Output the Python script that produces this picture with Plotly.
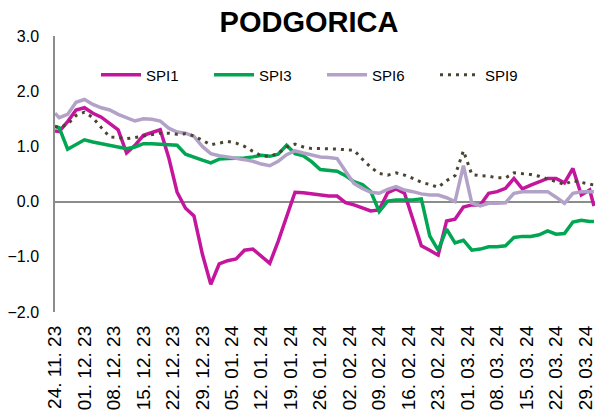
import plotly.graph_objects as go

dates = [
    "2023-11-24", "2023-11-25", "2023-11-27", "2023-11-29", "2023-12-01", "2023-12-03",
    "2023-12-05", "2023-12-07", "2023-12-09", "2023-12-11", "2023-12-13", "2023-12-15",
    "2023-12-17", "2023-12-19", "2023-12-21", "2023-12-23", "2023-12-25", "2023-12-27",
    "2023-12-29", "2023-12-31", "2024-01-02", "2024-01-04", "2024-01-06", "2024-01-08",
    "2024-01-10", "2024-01-12", "2024-01-14", "2024-01-16", "2024-01-18", "2024-01-20",
    "2024-01-22", "2024-01-24", "2024-01-26", "2024-01-28", "2024-01-30", "2024-02-01",
    "2024-02-03", "2024-02-05", "2024-02-07", "2024-02-09", "2024-02-11", "2024-02-13",
    "2024-02-15", "2024-02-17", "2024-02-19", "2024-02-21", "2024-02-23", "2024-02-25",
    "2024-02-27", "2024-02-29", "2024-03-02", "2024-03-04", "2024-03-06", "2024-03-08",
    "2024-03-10", "2024-03-12", "2024-03-14", "2024-03-16", "2024-03-18", "2024-03-20",
    "2024-03-22", "2024-03-24", "2024-03-26", "2024-03-28", "2024-03-30", "2024-03-31",
]

spi1 = [
    1.28, 1.27, 1.45, 1.66, 1.70, 1.60, 1.53, 1.42, 1.30, 0.88, 1.02, 1.20,
    1.25, 1.30, 0.80, 0.17, -0.12, -0.26, -0.95, -1.50, -1.13, -1.07, -1.04, -0.88,
    -0.86, -0.98, -1.12, -0.72, -0.28, 0.17, 0.16, 0.14, 0.12, 0.10, 0.10, -0.02,
    -0.06, -0.12, -0.17, -0.15, 0.16, 0.23, 0.15, -0.32, -0.80, -0.88, -0.97, -0.35,
    -0.32, -0.10, -0.06, -0.06, 0.15, 0.18, 0.24, 0.42, 0.23, 0.30, 0.36, 0.42,
    0.42, 0.34, 0.60, 0.12, 0.21, -0.08,
]

spi3 = [
    1.36, 1.34, 0.95, 1.04, 1.12, 1.08, 1.05, 1.02, 0.99, 0.96, 0.99, 1.05,
    1.05, 1.04, 1.03, 1.02, 0.86, 0.80, 0.75, 0.70, 0.77, 0.78, 0.78, 0.79,
    0.81, 0.84, 0.82, 0.86, 1.02, 0.87, 0.83, 0.72, 0.58, 0.56, 0.55, 0.47,
    0.36, 0.31, 0.18, -0.18, 0.01, 0.03, 0.03, 0.03, 0.05, -0.62, -0.88, -0.50,
    -0.75, -0.70, -0.88, -0.86, -0.82, -0.82, -0.80, -0.65, -0.63, -0.63, -0.60, -0.53,
    -0.59, -0.58, -0.37, -0.34, -0.36, -0.36,
]

spi6 = [
    1.60, 1.52, 1.58, 1.80, 1.85, 1.76, 1.70, 1.66, 1.58, 1.52, 1.46, 1.50,
    1.49, 1.46, 1.33, 1.26, 1.24, 1.18, 1.00, 0.87, 0.83, 0.81, 0.79, 0.76,
    0.73, 0.68, 0.65, 0.73, 0.85, 0.92, 0.88, 0.84, 0.81, 0.80, 0.78, 0.55,
    0.33, 0.24, 0.17, 0.15, 0.22, 0.27, 0.21, 0.18, 0.14, 0.12, 0.12, 0.07,
    0.00, 0.65, -0.03, -0.08, -0.03, -0.03, -0.02, 0.15, 0.18, 0.18, 0.18, 0.18,
    0.08, -0.03, 0.15, 0.18, 0.18, 0.18,
]

spi9 = [
    1.36, 1.34, 1.40, 1.56, 1.62, 1.52, 1.34, 1.17, 1.16, 1.14, 1.16, 1.19,
    1.22, 1.24, 1.24, 1.22, 1.23, 1.19, 1.11, 1.03, 1.06, 1.09, 1.06, 1.00,
    0.91, 0.83, 0.82, 0.87, 0.99, 1.04, 0.99, 0.96, 0.96, 0.96, 0.95, 0.94,
    0.93, 0.77, 0.62, 0.51, 0.48, 0.52, 0.48, 0.42, 0.35, 0.31, 0.26, 0.38,
    0.47, 0.92, 0.49, 0.47, 0.46, 0.43, 0.43, 0.52, 0.51, 0.49, 0.46, 0.41,
    0.35, 0.31, 0.38, 0.35, 0.31, 0.30,
]

tick_dates = [
    "2023-11-24", "2023-12-01", "2023-12-08", "2023-12-15", "2023-12-22", "2023-12-29",
    "2024-01-05", "2024-01-12", "2024-01-19", "2024-01-26", "2024-02-02", "2024-02-09",
    "2024-02-16", "2024-02-23", "2024-03-01", "2024-03-08", "2024-03-15", "2024-03-22",
    "2024-03-29",
]
tick_labels = [
    "24. 11. 23", "01. 12. 23", "08. 12. 23", "15. 12. 23", "22. 12. 23", "29. 12. 23",
    "05. 01. 24", "12. 01. 24", "19. 01. 24", "26. 01. 24", "02. 02. 24", "09. 02. 24",
    "16. 02. 24", "23. 02. 24", "01. 03. 24", "08. 03. 24", "15. 03. 24", "22. 03. 24",
    "29. 03. 24",
]

y_ticks = [-2, -1, 0, 1, 2, 3]

FONT = "Liberation Sans, Arial, sans-serif"

series = [
    ("SPI1", spi1, dict(color="#C4169C", width=3.5)),
    ("SPI3", spi3, dict(color="#00A651", width=3.5)),
    ("SPI6", spi6, dict(color="#B3A2C7", width=3.5)),
    ("SPI9", spi9, dict(color="#4A4530", width=3, dash="3px,5px")),
]

fig = go.Figure()
for name, vals, line in series:
    fig.add_trace(go.Scatter(x=dates, y=vals, mode="lines", name=name, line=line))

fig.update_layout(
    width=597,
    height=414,
    margin=dict(l=55, r=2, t=36, b=102),
    paper_bgcolor="white",
    plot_bgcolor="white",
    font=dict(family=FONT, color="black"),
    title=dict(
        text="<b>PODGORICA</b>",
        x=309 / 597,
        xref="container",
        xanchor="center",
        y=1 - 22 / 414,
        yref="container",
        yanchor="middle",
        font=dict(size=29, family=FONT, color="black"),
    ),
    legend=dict(
        orientation="h",
        x=(96 - 55) / 540,
        xanchor="left",
        y=(312 - 75) / 276,
        yanchor="middle",
        bgcolor="rgba(0,0,0,0)",
        font=dict(size=15, family=FONT, color="black"),
        entrywidth=58,
        entrywidthmode="pixels",
        itemwidth=40,
    ),
    showlegend=True,
)

fig.update_xaxes(
    type="date",
    range=["2023-11-24", "2024-03-31 06:00"],
    tickmode="array",
    tickvals=tick_dates,
    ticktext=tick_labels,
    tickangle=-90,
    tickfont=dict(size=19, family=FONT, color="black"),
    showgrid=False,
    zeroline=False,
    showline=False,
    ticks="",
    ticklabelstandoff=9,
    automargin=False,
)

fig.update_yaxes(
    range=[-2, 3],
    tickmode="array",
    tickvals=y_ticks,
    tickformat=".1f",
    tickfont=dict(size=16, family=FONT, color="black"),
    showgrid=False,
    showline=True,
    linecolor="#8C8C8C",
    linewidth=1.5,
    zeroline=True,
    zerolinecolor="#8C8C8C",
    zerolinewidth=1.5,
    ticks="",
    ticklabelstandoff=11,
    automargin=False,
)

fig.write_html(
    "out.html",
    config={"displayModeBar": False},
    post_script="document.body.style.margin='0';document.body.style.padding='0';",
)
